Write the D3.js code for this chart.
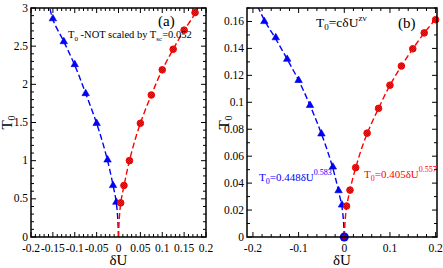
<!DOCTYPE html>
<html>
<head>
<meta charset="utf-8">
<script src="https://cdn.jsdelivr.net/npm/d3@7"></script>
<style>
  body { margin: 0; background: #fff; }
</style>
</head>
<body>
<div id="chart"></div>
<script>
// panel (a) data: T0 not scaled
var blueA_dU = [-0.005, -0.0125, -0.025, -0.05, -0.075, -0.1, -0.125, -0.15];
var blueA_T0 = [0.456, 0.675, 1.01, 1.49, 1.88, 2.26, 2.56, 2.86];
var redA_dU = [0.005, 0.0125, 0.025, 0.05, 0.075, 0.1, 0.125, 0.15, 0.175];
var redA_T0 = [0.447, 0.675, 1.0, 1.49, 1.86, 2.19, 2.46, 2.71, 2.94];
// dashed fit lines
var fitBlueA_dU = [0, -0.005, -0.0125, -0.025, -0.05, -0.075, -0.1, -0.125, -0.15, -0.157];
var fitBlueA_T0 = [0, 0.45, 0.68, 1.0, 1.49, 1.88, 2.25, 2.56, 2.85, 3.0];
var fitRedA_dU = [0, 0.005, 0.0125, 0.025, 0.05, 0.075, 0.1, 0.125, 0.15, 0.175, 0.178];
var fitRedA_T0 = [0, 0.44, 0.67, 1.0, 1.49, 1.86, 2.19, 2.46, 2.71, 2.94, 3.0];

// panel (b) data
var blueB_dU = [-0.005, -0.0125, -0.025, -0.05, -0.075, -0.1, -0.125, -0.15, -0.175];
var blueB_T0 = [0.0238, 0.0344, 0.052, 0.0766, 0.0977, 0.1163, 0.132, 0.148, 0.160];
var redB_dU = [0.005, 0.0125, 0.025, 0.05, 0.075, 0.1, 0.125, 0.15, 0.175, 0.2];
var redB_T0 = [0.023, 0.0348, 0.0515, 0.0771, 0.0955, 0.1127, 0.1269, 0.1397, 0.1515, 0.1613];
var zeroB_dU = [0];
var zeroB_T0 = [0];
var fitBlueB_dU = [0, -0.005, -0.0125, -0.025, -0.05, -0.075, -0.1, -0.125, -0.15, -0.175, -0.188];
var fitBlueB_T0 = [0, 0.022, 0.034, 0.051, 0.0766, 0.0977, 0.1163, 0.132, 0.147, 0.161, 0.17];
var fitRedB_dU = [0, 0.005, 0.0125, 0.025, 0.05, 0.075, 0.1, 0.125, 0.15, 0.175, 0.2, 0.203];
var fitRedB_T0 = [0, 0.022, 0.035, 0.0515, 0.0768, 0.0955, 0.1127, 0.1269, 0.1397, 0.1515, 0.1625, 0.1645];

// ticks
var xTicksA = [-0.2, -0.15, -0.1, -0.05, 0, 0.05, 0.1, 0.15, 0.2];
var xTickLabelsA = ["-0.2", "-0.15", "-0.1", "-0.05", "0", "0.05", "0.1", "0.15", "0.2"];
var yTicksA = [0, 0.5, 1, 1.5, 2, 2.5, 3];
var yTickLabelsA = ["0", "0.5", "1", "1.5", "2", "2.5", "3"];
var xTicksB = [-0.2, -0.1, 0, 0.1, 0.2];
var xTickLabelsB = ["-0.2", "-0.1", "0", "0.1", "0.2"];
var yTicksB = [0, 0.02, 0.04, 0.06, 0.08, 0.1, 0.12, 0.14, 0.16];
var yTickLabelsB = ["0", "0.02", "0.04", "0.06", "0.08", "0.1", "0.12", "0.14", "0.16"];

var W = 443, H = 268;
var FONT = "'Liberation Serif', 'Times New Roman', Times, 'DejaVu Serif', serif";
var svg = d3.select("#chart").append("svg")
    .attr("width", W)
    .attr("height", H)
    .attr("font-family", FONT);

var defs = svg.append("defs");
var pat = defs.append("pattern")
    .attr("id", "redhatch")
    .attr("patternUnits", "userSpaceOnUse")
    .attr("width", 2).attr("height", 2);
pat.append("rect").attr("width", 2).attr("height", 2).attr("fill", "#ff1a1a");
pat.append("rect").attr("width", 1).attr("height", 1).attr("fill", "#c80000");
pat.append("rect").attr("x", 1).attr("y", 1).attr("width", 1).attr("height", 1).attr("fill", "#c80000");

function zip(a, b) {
    return a.map(function(d, i) { return [d, b[i]]; });
}

function range(a, b, step) {
    var out = [];
    var n = Math.round((b - a) / step);
    for (var i = 0; i <= n; i++) out.push(+(a + i * step).toFixed(6));
    return out;
}

function panel(cfg) {
    var x = d3.scaleLinear().domain(cfg.xDomain).range([cfg.left, cfg.right]);
    var y = d3.scaleLinear().domain(cfg.yDomain).range([cfg.bottom, cfg.top]);
    var g = svg.append("g");

    var clipId = "clip" + cfg.id;
    defs.append("clipPath").attr("id", clipId)
        .append("rect")
        .attr("x", cfg.left).attr("y", cfg.top)
        .attr("width", cfg.right - cfg.left).attr("height", cfg.bottom - cfg.top);

    // minor + major ticks, inward, all four sides
    var xMinor = range(-0.2, 0.2, cfg.xMinor);
    var yMinor = range(0, cfg.yMinorMax, cfg.yMinorStep);
    var tk = g.append("g").attr("stroke", "#000").attr("stroke-width", 1);
    xMinor.forEach(function(v) {
        var major = cfg.xTicks.some(function(t) { return Math.abs(t - v) < 1e-6; });
        var len = major ? 5 : 3;
        var px = x(v);
        tk.append("line").attr("x1", px).attr("x2", px).attr("y1", cfg.bottom).attr("y2", cfg.bottom - len);
        tk.append("line").attr("x1", px).attr("x2", px).attr("y1", cfg.top).attr("y2", cfg.top + len);
    });
    yMinor.forEach(function(v) {
        var major = cfg.yTicks.some(function(t) { return Math.abs(t - v) < 1e-6; });
        var len = major ? 5 : 3;
        var py = y(v);
        tk.append("line").attr("y1", py).attr("y2", py).attr("x1", cfg.left).attr("x2", cfg.left + len);
        tk.append("line").attr("y1", py).attr("y2", py).attr("x1", cfg.right).attr("x2", cfg.right - len);
    });

    // tick labels
    g.selectAll(".xl").data(cfg.xTicks).enter().append("text")
        .attr("x", function(d) { return x(d); })
        .attr("y", cfg.bottom + 14.5)
        .attr("text-anchor", "middle")
        .style("font-size", "11.5px")
        .text(function(d, i) { return cfg.xLabels[i]; });
    g.selectAll(".yl").data(cfg.yTicks).enter().append("text")
        .attr("x", cfg.left - 3)
        .attr("y", function(d) { return y(d) + 3.5; })
        .attr("text-anchor", "end")
        .style("font-size", "11.5px")
        .text(function(d, i) { return cfg.yLabels[i]; });

    // axis titles
    g.append("text")
        .attr("x", (cfg.left + cfg.right) / 2)
        .attr("y", 265)
        .attr("text-anchor", "middle")
        .style("font-size", "15px")
        .text("\u03b4U");
    var yt = g.append("text")
        .attr("transform", "translate(" + cfg.yTitleX + "," + ((cfg.top + cfg.bottom) / 2) + ") rotate(-90)")
        .attr("text-anchor", "middle")
        .style("font-size", "15px");
    yt.append("tspan").text("T");
    yt.append("tspan").attr("dy", 3).style("font-size", "10px").text("0");

    // dashed fit lines
    var line = d3.line()
        .x(function(d) { return x(d[0]); })
        .y(function(d) { return y(d[1]); })
        .curve(d3.curveMonotoneY);
    var lines = g.append("g").attr("clip-path", "url(#" + clipId + ")");
    lines.append("path")
        .datum(cfg.fitBlue)
        .attr("d", line)
        .attr("fill", "none")
        .attr("stroke", "#0000ff")
        .attr("stroke-width", 1.4)
        .attr("stroke-dasharray", "6,3");
    lines.append("path")
        .datum(cfg.fitRed)
        .attr("d", line)
        .attr("fill", "none")
        .attr("stroke", "#ff0000")
        .attr("stroke-width", 1.4)
        .attr("stroke-dasharray", "6,3");

    // markers
    if (cfg.zero) {
        g.selectAll(".zero").data(cfg.zero).enter().append("circle")
            .attr("cx", function(d) { return x(d[0]); })
            .attr("cy", function(d) { return y(d[1]); })
            .attr("r", 4.5)
            .attr("fill", "#0000ff");
        g.selectAll(".zero2").data(cfg.zero).enter().append("circle")
            .attr("cx", function(d) { return x(d[0]); })
            .attr("cy", function(d) { return y(d[1]); })
            .attr("r", 2.5)
            .attr("fill", "#8b0030");
    }
    var tri = d3.symbol().type(d3.symbolTriangle).size(24);
    g.selectAll(".tri").data(cfg.blue).enter().append("path")
        .attr("d", tri)
        .attr("transform", function(d) { return "translate(" + x(d[0]) + "," + y(d[1]) + ")"; })
        .attr("fill", "#0000ff")
        .attr("stroke", "#0000cc")
        .attr("stroke-width", 0.6);
    g.selectAll(".circ").data(cfg.red).enter().append("circle")
        .attr("cx", function(d) { return x(d[0]); })
        .attr("cy", function(d) { return y(d[1]); })
        .attr("r", 3.3)
        .attr("fill", "url(#redhatch)")
        .attr("stroke", "#ff0000")
        .attr("stroke-width", 1);

    // frame
    g.append("rect")
        .attr("x", cfg.left).attr("y", cfg.top)
        .attr("width", cfg.right - cfg.left).attr("height", cfg.bottom - cfg.top)
        .attr("fill", "none")
        .attr("stroke", "#000")
        .attr("stroke-width", 1.5);

    return { g: g, x: x, y: y };
}

panel({
    id: "a",
    left: 31, right: 206, top: 8, bottom: 237,
    xDomain: [-0.2, 0.2], yDomain: [0, 3],
    xMinor: 0.01, yMinorStep: 0.1, yMinorMax: 3,
    xTicks: xTicksA, xLabels: xTickLabelsA,
    yTicks: yTicksA, yLabels: yTickLabelsA,
    yTitleX: 12,
    blue: zip(blueA_dU, blueA_T0), red: zip(redA_dU, redA_T0),
    fitBlue: zip(fitBlueA_dU, fitBlueA_T0), fitRed: zip(fitRedA_dU, fitRedA_T0)
});

panel({
    id: "b",
    left: 247, right: 437, top: 8, bottom: 237,
    xDomain: [-0.213, 0.203], yDomain: [0, 0.17],
    xMinor: 0.02, yMinorStep: 0.01, yMinorMax: 0.17,
    xTicks: xTicksB, xLabels: xTickLabelsB,
    yTicks: yTicksB, yLabels: yTickLabelsB,
    yTitleX: 229,
    blue: zip(blueB_dU, blueB_T0), red: zip(redB_dU, redB_T0),
    zero: zip(zeroB_dU, zeroB_T0),
    fitBlue: zip(fitBlueB_dU, fitBlueB_T0), fitRed: zip(fitRedB_dU, fitRedB_T0)
});

// annotations panel (a)
svg.append("text").attr("x", 158).attr("y", 26).style("font-size", "15px").text("(a)");
var ann = svg.append("text").attr("x", 68).attr("y", 38).style("font-size", "10.5px");
ann.append("tspan").text("T");
ann.append("tspan").attr("dy", 3).style("font-size", "7px").text("0");
ann.append("tspan").attr("dy", -3).text(" -NOT scaled by T");
ann.append("tspan").attr("dy", 3).style("font-size", "7px").text("sc");
ann.append("tspan").attr("dy", -3).text("=0.052");

// annotations panel (b)
svg.append("text").attr("x", 398).attr("y", 28).style("font-size", "15px").text("(b)");
var eq = svg.append("text").attr("x", 316).attr("y", 27).style("font-size", "13.5px");
eq.append("tspan").text("T");
eq.append("tspan").attr("dy", 3).style("font-size", "9px").text("0");
eq.append("tspan").attr("dy", -3).text("=c\u03b4U");
eq.append("tspan").attr("dy", -6).style("font-size", "9px").text("z\u03bd");

var fb = svg.append("text").attr("x", 259).attr("y", 181).attr("fill", "#0000ff").style("font-size", "11px");
fb.append("tspan").text("T");
fb.append("tspan").attr("dy", 3).style("font-size", "8px").text("0");
fb.append("tspan").attr("dy", -3).text("=0.448\u03b4U");
fb.append("tspan").attr("dy", -6).style("font-size", "8px").text("0.583");

var fr = svg.append("text").attr("x", 364).attr("y", 178).attr("fill", "#ff0000").style("font-size", "11px");
fr.append("tspan").text("T");
fr.append("tspan").attr("dy", 3).style("font-size", "8px").text("0");
fr.append("tspan").attr("dy", -3).text("=0.405\u03b4U");
fr.append("tspan").attr("dy", -6).style("font-size", "8px").text("0.557");
</script>
</body>
</html>
